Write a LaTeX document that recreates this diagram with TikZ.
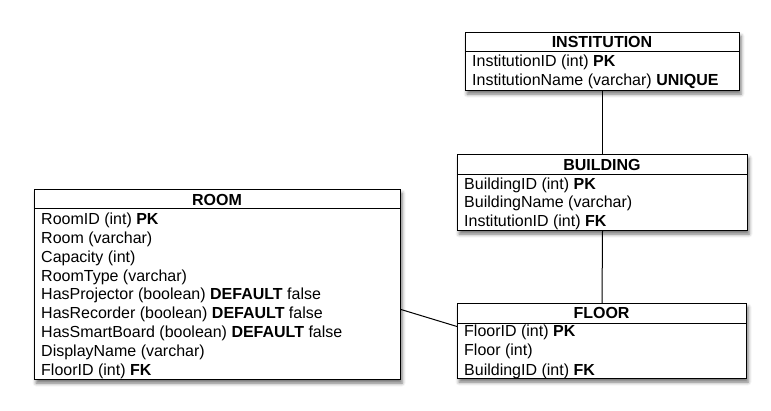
\documentclass[tikz,border=0pt]{standalone}
\usepackage{fontspec}
\setmainfont{Liberation Sans}
\usetikzlibrary{shadows.blur}
\tikzset{
  tbl/.style={draw=black, line width=1pt, fill=white, anchor=north west, inner sep=0pt,
    blur shadow={shadow xshift=1.5pt, shadow yshift=-3.5pt, shadow blur radius=3.5pt, shadow opacity=55}},
  rule/.style={draw=black, line width=1pt},
  link/.style={draw=black, line width=1pt},
  hdrtxt/.style={font=\fontsize{16}{19}\selectfont\bfseries, anchor=base, inner sep=0pt},
  rowtxt/.style={font=\fontsize{16}{19}\selectfont, anchor=base west, inner sep=0pt},
}
\begin{document}
\begin{tikzpicture}[x=1pt, y=-1pt]
\useasboundingbox (0,0) rectangle (771,410);

% INSTITUTION
\node[tbl, minimum width=274pt, minimum height=58pt] (inst) at (465,32) {};
\draw[rule] ([yshift=-19pt]inst.north west) -- ([yshift=-19pt]inst.north east);
\node[hdrtxt] (insth) at (602,47.7) {INSTITUTION};
\node[rowtxt] (inst1) at (472,66.5) {InstitutionID (int) \textbf{PK}};
\node[rowtxt] (inst2) at (472,85.5) {InstitutionName (varchar) \textbf{UNIQUE}};

% BUILDING
\node[tbl, minimum width=290pt, minimum height=76pt] (bldg) at (457,154) {};
\draw[rule] ([yshift=-20pt]bldg.north west) -- ([yshift=-20pt]bldg.north east);
\node[hdrtxt] (bldgh) at (602,170) {BUILDING};
\node[rowtxt] (bldg1) at (464,189) {BuildingID (int) \textbf{PK}};
\node[rowtxt] (bldg2) at (464,207.5) {BuildingName (varchar)};
\node[rowtxt] (bldg3) at (464,226) {InstitutionID (int) \textbf{FK}};

% FLOOR
\node[tbl, minimum width=289pt, minimum height=75pt] (floor) at (457,303) {};
\draw[rule] ([yshift=-20pt]floor.north west) -- ([yshift=-20pt]floor.north east);
\node[hdrtxt] (floorh) at (601.5,318.5) {FLOOR};
\node[rowtxt] (floor1) at (464,336) {FloorID (int) \textbf{PK}};
\node[rowtxt] (floor2) at (464,355.5) {Floor (int)};
\node[rowtxt] (floor3) at (464,375) {BuildingID (int) \textbf{FK}};

% ROOM
\node[tbl, minimum width=366pt, minimum height=190pt] (room) at (34,189) {};
\draw[rule] ([yshift=-19pt]room.north west) -- ([yshift=-19pt]room.north east);
\node[hdrtxt] (roomh) at (217,205) {ROOM};
\foreach \t [count=\i from 0] in {
  {RoomID (int) \textbf{PK}},
  {Room (varchar)},
  {Capacity (int)},
  {RoomType (varchar)},
  {HasProjector (boolean) \textbf{DEFAULT} false},
  {HasRecorder (boolean) \textbf{DEFAULT} false},
  {HasSmartBoard (boolean) \textbf{DEFAULT} false},
  {DisplayName (varchar)},
  {FloorID (int) \textbf{FK}}}
  \node[rowtxt] (room\i) at (41,224.3+18.9*\i) {\t};

% connectors
\draw[link] (inst.south) -- (bldg.north);
\draw[link] (bldg.south) -- (floor.north);
\draw[link] ([yshift=-25pt]room.east) -- ([yshift=14.5pt]floor.west);
\end{tikzpicture}
\end{document}
